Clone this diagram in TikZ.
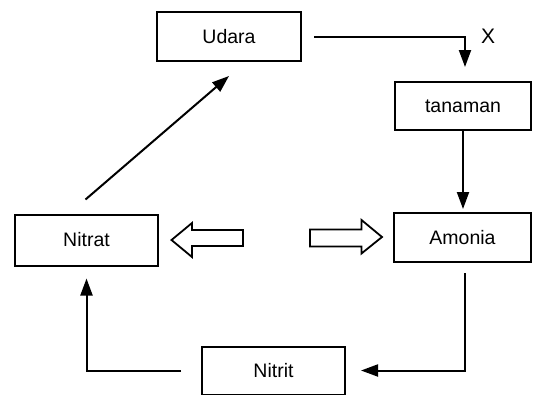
\documentclass[tikz,border=0pt]{standalone}
\usepackage{fontspec}
\setmainfont{Liberation Sans}
\usetikzlibrary{arrows.meta}
\begin{document}
\begin{tikzpicture}[x=1pt,y=-1pt,
  box/.style={draw,line width=2pt,inner sep=0pt,font=\fontsize{19.5}{22}\selectfont},
  conn/.style={line width=2pt,-{Triangle[length=17pt,width=12pt]}},
  hollow/.style={draw,line width=1.8pt,line join=miter}]
\useasboundingbox (0,0) rectangle (533,394);
\node[box,minimum width=144pt,minimum height=49pt] (udara) at (229,36.5) {Udara};
\node[box,minimum width=136pt,minimum height=48pt] (tanaman) at (463,106) {tanaman};
\node[box,minimum width=137pt,minimum height=49pt] (amonia) at (462.5,237.5) {Amonia};
\node[box,minimum width=143pt,minimum height=51pt] (nitrat) at (86.5,240) {Nitrat};
\node[box,minimum width=143pt,minimum height=48pt] (nitrit) at (273.5,370.5) {Nitrit};
\node[font=\fontsize{21}{24}\selectfont] (xlabel) at (488,36) {X};
\draw[conn] ([xshift=12pt]udara.east) -| ([xshift=2pt,yshift=14pt]tanaman.north);
\draw[conn] (tanaman.south) -- ([yshift=3pt]tanaman.south |- amonia.north);
\draw[conn] ([xshift=-1pt,yshift=14pt]nitrat.north) -- ([yshift=-14pt]udara.south);
\draw[conn] ([xshift=2.5pt,yshift=-10pt]amonia.south) |- ([xshift=15pt]nitrit.east);
\draw[conn] ([xshift=-20pt]nitrit.west) -| ([yshift=-12pt]nitrat.south);
\draw[hollow] (171.5,240) -- (192,223) -- (192,230) -- (243,230) -- (243,246) -- (192,246) -- (192,257) -- cycle;
\draw[hollow] (382,237) -- (361.5,220) -- (361.5,229.5) -- (310,229.5) -- (310,246.5) -- (361.5,246.5) -- (361.5,253.5) -- cycle;
\end{tikzpicture}
\end{document}
